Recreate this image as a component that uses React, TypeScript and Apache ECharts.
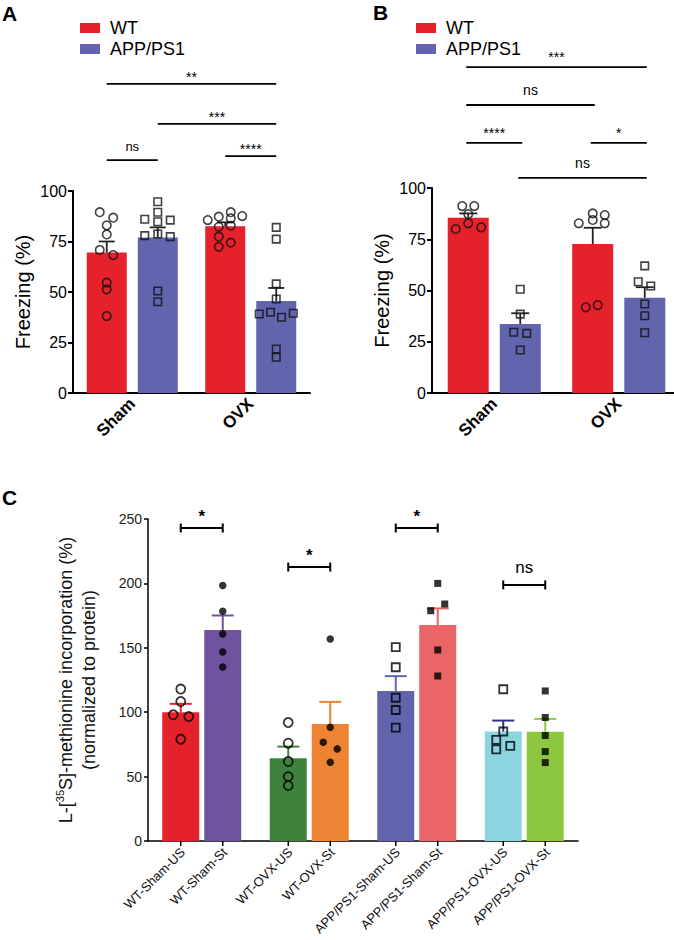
import React, { useEffect, useRef } from 'react';
import * as echarts from 'echarts';

const FONT = '"Liberation Sans", Arial, Helvetica, sans-serif';

// ---------------- Panel A data ----------------
const A_cats = ['Sham', 'OVX'];
const A_WT_mean = [69.5, 82.5];
const A_WT_sem = [5.5, 2];
const A_APP_mean = [77, 45.5];
const A_APP_sem = [5, 6.5];
const A_WT_pts = [
  [89.5, 86.8, 83, 78.5, 70.8, 68.3, 54.6, 51.3, 38.1],
  [85.6, 87.3, 89.5, 87.6, 86.5, 82.3, 82.8, 77.4, 74.4, 72.4],
];
const A_APP_pts = [
  [94.7, 89.5, 86, 84.8, 85.6, 77.9, 78.7, 77.4, 50.5, 45.2],
  [82, 76.2, 54, 46.5, 39.1, 40, 37.5, 39.5, 21.8, 17.7],
];
// comparisons: [fromCategory, fromGroup, toCategory, toGroup]
const A_sig_pairs = [[0, 0, 1, 1], [0, 1, 1, 1], [0, 0, 0, 1], [1, 0, 1, 1]];
const A_sig_levels = [153, 133.2, 115.3, 117.3];
const A_sig_labels = ['**', '***', 'ns', '****'];

// ---------------- Panel B data ----------------
const B_cats = ['Sham', 'OVX'];
const B_WT_mean = [85.5, 72.7];
const B_WT_sem = [2.1, 7.9];
const B_APP_mean = [33.7, 46.5];
const B_APP_sem = [5.2, 5.1];
const B_WT_pts = [
  [91.2, 91.2, 87.3, 82.8, 80, 80.8],
  [82.8, 87.6, 84.4, 86.8, 82.8, 41.8, 42.9],
];
const B_APP_pts = [
  [50.6, 38.5, 29.6, 29.1, 21],
  [62, 54.3, 52.2, 43.4, 37.7, 29.4],
];
const B_sig_pairs = [[0, 0, 1, 1], [0, 0, 1, 0], [0, 0, 0, 1], [1, 0, 1, 1], [0, 1, 1, 1]];
const B_sig_levels = [159, 140.5, 122, 122, 104.9];
const B_sig_labels = ['***', 'ns', '****', '*', 'ns'];

// ---------------- Panel C data ----------------
const C_groups = ['WT-Sham', 'WT-OVX', 'APP/PS1-Sham', 'APP/PS1-OVX'];
const C_conds = ['US', 'St'];
const C_US_mean = [100, 64.2, 116.5, 85];
const C_US_sem = [6.5, 9.1, 11.5, 8.5];
const C_St_mean = [163.8, 90.9, 167.7, 84.9];
const C_St_sem = [11.3, 17.1, 12.9, 9.9];
const C_US_pts = [
  [118, 108.3, 98, 96.6, 79],
  [92, 75.9, 61.7, 50, 43],
  [150.5, 134.9, 111.2, 101.7, 88.1],
  [117.8, 85, 78.5, 71.2, 73.8],
];
const C_St_pts = [
  [198.4, 178.4, 160.8, 146.8, 135.1],
  [156.8, 88.3, 76.7, 71.5, 61.1],
  [200, 184, 178.8, 148.3, 128.1],
  [116.5, 95.9, 81.9, 69.4, 60.9],
];
const C_sig_cats = [0, 1, 2, 3];
const C_sig_levels = [243, 212.7, 243, 198.8];
const C_sig_labels = ['*', '*', '*', 'ns'];

// ---------------- layout / style (pixels, colours) ----------------
const RED = '#e5222b';
const BLUE = '#6265ae';
const C_US_colors = ['#e5222a', '#3f823e', '#6265ae', '#8bd4e0'];
const C_St_colors = ['#6f53a1', '#ee8433', '#ea6566', '#8dc63f'];
const C_US_errColors = ['#e5222a', '#3f823e', '#6265ae', '#2e3184'];
const C_St_errColors = ['#6f53a1', '#ee8433', '#ea6566', '#8dc63f'];

const A_side = [-25.5, 25.5];
const B_side = [-26, 26];
const C_side = [-21, 21];

const A_WT_jit = [
  [-7, 6.5, 0, 0, -7, 6.5, 0, 0, 0],
  [-17.5, -6.5, 5.5, 17, 5.5, -6.5, 5.5, -6.5, 5.5, -6.5],
];
const A_APP_jit = [
  [0, 0, -13, 0, 12.5, -13, 0, 12.5, 0, 0],
  [0, 0, 0, 0, -17, -5.7, 5.3, 17, 0, 0],
];
const B_WT_jit = [
  [-6, 6, 0, 0, -12.5, 13],
  [-14, 0, 0, 12, 12, -7, 5],
];
const B_APP_jit = [
  [0, 0, -6.5, 6.5, 0],
  [0, -6.5, 6, 0, 0, 0],
];
const C_US_jit = [
  [0, 0, -7.5, 8, 0],
  [0, 0, 0, 0, 0],
  [0, 0, 0, 0, 0],
  [0, 0, -7, -7, 7],
];
const C_St_jit = [
  [0, 0, 0, 0, 0],
  [0, 0, -7, 7, 0],
  [0, 7, -7, 0, 0],
  [0, 0, 0, 0, 0],
];

// ---------------- helpers ----------------
const pointData = (pts: number[][], jit: number[][], off: number, cats: number[]) => {
  const out: any[] = [];
  cats.forEach((c) => {
    pts[c].forEach((v, k) => {
      out.push({ value: [c, v], symbolOffset: [off + jit[c][k], 0] });
    });
  });
  return out;
};

const errData = (mean: number[], sem: number[]) => mean.map((m, i) => [i, m, sem[i]]);

const errorBars = (offset: number, cap: number, lw: number, colors: string[]) =>
  (params: any, api: any) => {
    const c = api.value(0);
    const m = api.value(1);
    const s = api.value(2);
    const base = api.coord([c, m]);
    const top = api.coord([c, m + s]);
    const x = base[0] + offset;
    const col = colors[params.dataIndex % colors.length];
    return {
      type: 'group',
      children: [
        { type: 'line', shape: { x1: x, y1: base[1], x2: x, y2: top[1] }, style: { stroke: col, lineWidth: lw } },
        { type: 'line', shape: { x1: x - cap / 2, y1: top[1], x2: x + cap / 2, y2: top[1] }, style: { stroke: col, lineWidth: lw } },
      ],
    };
  };

const sigBrackets = (pairs: number[][], labels: string[], side: number[], o: any) =>
  (params: any, api: any) => {
    const i = params.dataIndex;
    const [fc, fs, tc, ts] = pairs[i];
    const lv = api.value(1);
    const p1 = api.coord([fc, lv]);
    const p2 = api.coord([tc, lv]);
    const x1 = p1[0] + side[fs] - o.ext;
    const x2 = p2[0] + side[ts] + o.ext;
    const y = p1[1];
    const lab = labels[i];
    const isNs = lab === 'ns';
    const children: any[] = [
      { type: 'line', shape: { x1, y1: y, x2, y2: y }, style: { stroke: '#000', lineWidth: o.lw } },
    ];
    if (o.caps) {
      children.push({ type: 'line', shape: { x1, y1: y - o.caps, x2: x1, y2: y + o.caps }, style: { stroke: '#000', lineWidth: o.lw } });
      children.push({ type: 'line', shape: { x1: x2, y1: y - o.caps, x2, y2: y + o.caps }, style: { stroke: '#000', lineWidth: o.lw } });
    }
    children.push({
      type: 'text',
      x: (x1 + x2) / 2,
      y: y - (isNs ? o.nsGap : o.astGap),
      style: {
        text: lab,
        fontSize: isNs ? o.nsSize : o.astSize,
        fontWeight: isNs ? 'normal' : o.astWeight,
        fontFamily: FONT,
        fill: '#000',
        align: 'center',
        verticalAlign: 'bottom',
      },
    });
    return { type: 'group', children };
  };

const cAxisLabels = (side: number[]) => (params: any, api: any) => {
  const c = api.value(0);
  const s = api.value(2);
  const p = api.coord([c, 0]);
  const x = p[0] + side[s];
  const y = p[1];
  return {
    type: 'group',
    children: [
      { type: 'line', shape: { x1: x, y1: y, x2: x, y2: y + 5 }, style: { stroke: '#000', lineWidth: 1.5 } },
      {
        type: 'text',
        x: x + 2,
        y: y + 9,
        rotation: Math.PI / 4,
        style: {
          text: `${C_groups[c]}-${C_conds[s]}`,
          fontSize: 13,
          fontFamily: FONT,
          fill: '#111',
          align: 'right',
          verticalAlign: 'middle',
        },
      },
    ],
  };
};

const abXAxis = (gridIndex: number, data: string[]) => ({
  type: 'category',
  gridIndex,
  data,
  axisLine: { lineStyle: { color: '#000', width: 2 } },
  axisTick: { alignWithLabel: true, length: 6, lineStyle: { color: '#000', width: 2 } },
  axisLabel: { rotate: 45, fontWeight: 'bold', fontSize: 17, color: '#000', fontFamily: FONT, margin: 8 },
  splitLine: { show: false },
});

const abYAxis = (gridIndex: number) => ({
  type: 'value',
  gridIndex,
  min: 0,
  max: 100,
  interval: 25,
  axisLine: { show: true, lineStyle: { color: '#000', width: 2 } },
  axisTick: { show: true, length: 5, lineStyle: { color: '#000', width: 2 } },
  axisLabel: { fontSize: 16, color: '#000', fontFamily: FONT, margin: 6 },
  splitLine: { show: false },
  name: 'Freezing (%)',
  nameLocation: 'middle',
  nameGap: 40,
  nameTextStyle: { fontSize: 20, color: '#000', fontFamily: FONT },
});

const abLegend = (left: number) => ({
  left,
  top: 14,
  orient: 'vertical',
  data: ['WT', 'APP/PS1'],
  icon: 'rect',
  itemWidth: 20,
  itemHeight: 10,
  itemGap: 3,
  selectedMode: false,
  textStyle: { fontSize: 18, fontFamily: FONT, color: '#000', padding: [0, 0, 0, 5] },
});

const abSeries = (
  idx: number,
  wtMean: number[], wtSem: number[], appMean: number[], appSem: number[],
  wtPts: number[][], appPts: number[][], wtJit: number[][], appJit: number[][],
  side: number[], barWidth: number, barGap: string, cap: number,
  sigPairs: number[][], sigLevels: number[], sigLabels: string[], sigOpts: any,
) => [
  { type: 'bar', name: 'WT', xAxisIndex: idx, yAxisIndex: idx, data: wtMean, barWidth, barGap, itemStyle: { color: RED }, z: 2, silent: true },
  { type: 'bar', name: 'APP/PS1', xAxisIndex: idx, yAxisIndex: idx, data: appMean, barWidth, barGap, itemStyle: { color: BLUE }, z: 2, silent: true },
  { type: 'custom', name: `err-wt-${idx}`, xAxisIndex: idx, yAxisIndex: idx, data: errData(wtMean, wtSem), renderItem: errorBars(side[0], cap, 1.8, ['#222']), z: 3, silent: true },
  { type: 'custom', name: `err-app-${idx}`, xAxisIndex: idx, yAxisIndex: idx, data: errData(appMean, appSem), renderItem: errorBars(side[1], cap, 1.8, ['#222']), z: 3, silent: true },
  {
    type: 'scatter', name: `pts-wt-${idx}`, xAxisIndex: idx, yAxisIndex: idx,
    symbol: 'circle', symbolSize: 8.5,
    itemStyle: { color: 'rgba(0,0,0,0)', borderColor: '#111', borderWidth: 1.6 },
    data: pointData(wtPts, wtJit, side[0], [0, 1]), z: 4, silent: true,
  },
  {
    type: 'scatter', name: `pts-app-${idx}`, xAxisIndex: idx, yAxisIndex: idx,
    symbol: 'rect', symbolSize: 7.5,
    itemStyle: { color: 'rgba(0,0,0,0)', borderColor: '#111', borderWidth: 1.6 },
    data: pointData(appPts, appJit, side[1], [0, 1]), z: 4, silent: true,
  },
  {
    type: 'custom', name: `sig-${idx}`, xAxisIndex: idx, yAxisIndex: idx,
    data: sigPairs.map((p, i) => [p[0], sigLevels[i]]),
    renderItem: sigBrackets(sigPairs, sigLabels, side, sigOpts), z: 5, silent: true,
  },
];

const buildOption = () => {
  const cSigPairs = C_sig_cats.map((c) => [c, 0, c, 1]);
  return {
    animation: false,
    textStyle: { fontFamily: FONT },
    legend: [abLegend(75), abLegend(411)],
    grid: [
      { left: 73, top: 191, width: 237, height: 202, containLabel: false, outerBoundsMode: 'none' },
      { left: 432, top: 188, width: 249, height: 205, containLabel: false, outerBoundsMode: 'none' },
      { left: 148, top: 519, width: 430, height: 322, containLabel: false, outerBoundsMode: 'none' },
    ],
    xAxis: [
      abXAxis(0, A_cats),
      abXAxis(1, B_cats),
      {
        type: 'category', gridIndex: 2, data: C_groups,
        axisLine: { lineStyle: { color: '#000', width: 1.5 } },
        axisTick: { show: false }, axisLabel: { show: false }, splitLine: { show: false },
      },
    ],
    yAxis: [
      abYAxis(0),
      abYAxis(1),
      {
        type: 'value', gridIndex: 2, min: 0, max: 250, interval: 50,
        axisLine: { show: true, lineStyle: { color: '#000', width: 1.5 } },
        axisTick: { show: true, length: 4, lineStyle: { color: '#000', width: 1.5 } },
        axisLabel: { fontSize: 14, color: '#222', fontFamily: FONT, margin: 6 },
        splitLine: { show: false },
        name: '{n|L-[}{s|35}{n|S]-methionine incorporation (%)}\n{n|(normalized to protein)}',
        nameLocation: 'middle',
        nameGap: 48,
        nameTextStyle: {
          fontSize: 18, color: '#111', fontFamily: FONT, lineHeight: 23,
          rich: {
            n: { fontSize: 18, color: '#111', fontFamily: FONT, lineHeight: 23 },
            s: { fontSize: 11, color: '#111', fontFamily: FONT, lineHeight: 12, verticalAlign: 'top' },
          },
        },
      },
    ],
    graphic: [
      { type: 'text', left: 2, top: 3, style: { text: 'A', fontSize: 21, fontWeight: 'bold', fontFamily: FONT, fill: '#000' } },
      { type: 'text', left: 373, top: 2, style: { text: 'B', fontSize: 21, fontWeight: 'bold', fontFamily: FONT, fill: '#000' } },
      { type: 'text', left: 2, top: 487, style: { text: 'C', fontSize: 21, fontWeight: 'bold', fontFamily: FONT, fill: '#000' } },
    ],
    series: [
      ...abSeries(0, A_WT_mean, A_WT_sem, A_APP_mean, A_APP_sem, A_WT_pts, A_APP_pts, A_WT_jit, A_APP_jit,
        A_side, 40, '27.5%', 16, A_sig_pairs, A_sig_levels, A_sig_labels,
        { ext: 0, lw: 1.8, caps: 0, astGap: 0, nsGap: 7, astSize: 14, nsSize: 13, astWeight: 'normal' }),
      ...abSeries(1, B_WT_mean, B_WT_sem, B_APP_mean, B_APP_sem, B_WT_pts, B_APP_pts, B_WT_jit, B_APP_jit,
        B_side, 41, '27%', 18, B_sig_pairs, B_sig_levels, B_sig_labels,
        { ext: 2, lw: 1.8, caps: 0, astGap: 3, nsGap: 8, astSize: 14, nsSize: 14, astWeight: 'normal' }),
      {
        type: 'bar', name: 'US', xAxisIndex: 2, yAxisIndex: 2, barWidth: 37, barGap: '13.5%', z: 2, silent: true,
        data: C_US_mean.map((v, i) => ({ value: v, itemStyle: { color: C_US_colors[i] } })),
      },
      {
        type: 'bar', name: 'St', xAxisIndex: 2, yAxisIndex: 2, barWidth: 37, barGap: '13.5%', z: 2, silent: true,
        data: C_St_mean.map((v, i) => ({ value: v, itemStyle: { color: C_St_colors[i] } })),
      },
      { type: 'custom', name: 'err-us', xAxisIndex: 2, yAxisIndex: 2, data: errData(C_US_mean, C_US_sem), renderItem: errorBars(C_side[0], 22, 2, C_US_errColors), z: 3, silent: true },
      { type: 'custom', name: 'err-st', xAxisIndex: 2, yAxisIndex: 2, data: errData(C_St_mean, C_St_sem), renderItem: errorBars(C_side[1], 22, 2, C_St_errColors), z: 3, silent: true },
      {
        type: 'scatter', name: 'wt-us', xAxisIndex: 2, yAxisIndex: 2, symbol: 'circle', symbolSize: 9,
        itemStyle: { color: 'rgba(0,0,0,0)', borderColor: '#000', borderWidth: 1.8 },
        data: pointData(C_US_pts, C_US_jit, C_side[0], [0, 1]), z: 4, silent: true,
      },
      {
        type: 'scatter', name: 'wt-st', xAxisIndex: 2, yAxisIndex: 2, symbol: 'circle', symbolSize: 7.5,
        itemStyle: { color: '#000' },
        data: pointData(C_St_pts, C_St_jit, C_side[1], [0, 1]), z: 4, silent: true,
      },
      {
        type: 'scatter', name: 'app-us', xAxisIndex: 2, yAxisIndex: 2, symbol: 'rect', symbolSize: 8,
        itemStyle: { color: 'rgba(0,0,0,0)', borderColor: '#000', borderWidth: 1.8 },
        data: pointData(C_US_pts, C_US_jit, C_side[0], [2, 3]), z: 4, silent: true,
      },
      {
        type: 'scatter', name: 'app-st', xAxisIndex: 2, yAxisIndex: 2, symbol: 'rect', symbolSize: 7,
        itemStyle: { color: '#000' },
        data: pointData(C_St_pts, C_St_jit, C_side[1], [2, 3]), z: 4, silent: true,
      },
      {
        type: 'custom', name: 'sig-c', xAxisIndex: 2, yAxisIndex: 2,
        data: cSigPairs.map((p, i) => [p[0], C_sig_levels[i]]),
        renderItem: sigBrackets(cSigPairs, C_sig_labels, C_side, { ext: 0, lw: 2, caps: 4.5, astGap: 3, nsGap: 9, astSize: 17, nsSize: 17, astWeight: 'bold' }),
        z: 5, silent: true,
      },
      {
        type: 'custom', name: 'c-axis-labels', xAxisIndex: 2, yAxisIndex: 2,
        data: C_groups.flatMap((_, c) => C_conds.map((__, s) => [c, 0, s])),
        renderItem: cAxisLabels(C_side), z: 5, silent: true,
      },
    ],
  };
};

export default function App() {
  const ref = useRef<HTMLDivElement>(null);
  useEffect(() => {
    document.body.style.margin = '0';
    const chart = echarts.init(ref.current as HTMLDivElement, null, { renderer: 'svg' });
    chart.setOption(buildOption() as any);
    return () => chart.dispose();
  }, []);
  return <div ref={ref} style={{ width: 674, height: 940 }} />;
}
